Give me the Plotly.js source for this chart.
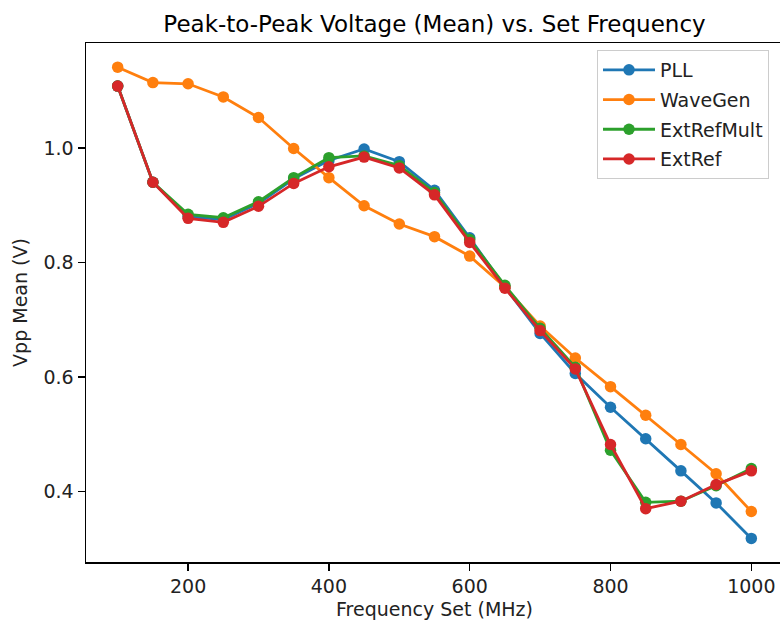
<!DOCTYPE html>
<html>
<head>
<meta charset="utf-8">
<script src="https://cdn.plot.ly/plotly-3.0.1.min.js"></script>
<style>
html, body { margin: 0; padding: 0; overflow: hidden; background: #fff; }
#chart { width: 783px; height: 626px; }
</style>
</head>
<body>
<div id="chart"></div>
<script>
const freq = [100, 150, 200, 250, 300, 350, 400, 450, 500, 550, 600, 650, 700, 750, 800, 850, 900, 950, 1000];
const pll = [1.108, 0.940, 0.880, 0.875, 0.903, 0.946, 0.978, 0.998, 0.976, 0.926, 0.843, 0.757, 0.676, 0.606, 0.547, 0.492, 0.436, 0.380, 0.318];
const waveGen = [1.141, 1.114, 1.112, 1.089, 1.053, 0.999, 0.948, 0.899, 0.867, 0.845, 0.811, 0.757, 0.689, 0.633, 0.583, 0.533, 0.482, 0.431, 0.365];
const extRefMult = [1.108, 0.940, 0.884, 0.878, 0.906, 0.948, 0.983, 0.986, 0.969, 0.922, 0.840, 0.760, 0.685, 0.617, 0.472, 0.381, 0.383, 0.410, 0.440];
const extRef = [1.108, 0.940, 0.877, 0.870, 0.898, 0.938, 0.967, 0.984, 0.965, 0.918, 0.835, 0.755, 0.681, 0.614, 0.482, 0.370, 0.383, 0.412, 0.436];
const seriesNames = ["PLL", "WaveGen", "ExtRefMult", "ExtRef"];
const seriesValues = [pll, waveGen, extRefMult, extRef];
const colors = ["#1f77b4", "#ff7f0e", "#2ca02c", "#d62728"];

const font = "DejaVu Sans, sans-serif";
const traces = seriesNames.map((name, i) => ({
  x: freq,
  y: seriesValues[i],
  name: name,
  legendgroup: name,
  type: "scatter",
  mode: "lines+markers",
  line: { color: colors[i], width: 2.8 },
  marker: { color: colors[i], size: 11.5 }
}));

const layout = {
  width: 783,
  height: 626,
  margin: { l: 86, r: 0, t: 43, b: 64 },
  paper_bgcolor: "#fff",
  plot_bgcolor: "#fff",
  font: { family: font, size: 19, color: "#000" },
  title: {
    text: "Peak-to-Peak Voltage (Mean) vs. Set Frequency",
    font: { family: font, size: 23, color: "#000" },
    x: 0.5, xref: "paper", xanchor: "center",
    y: 1 - 24 / 626, yref: "container", yanchor: "middle"
  },
  xaxis: {
    range: [55, 1045],
    tickvals: [200, 400, 600, 800, 1000],
    ticktext: ["200", "400", "600", "800", "1000"],
    ticks: "outside", ticklen: 7, tickwidth: 1.5, tickcolor: "#000",
    showline: true, linecolor: "#000", linewidth: 1.5, mirror: true,
    showgrid: false, zeroline: false,
    tickfont: { family: font, size: 19, color: "#222" },
    title: { text: "Frequency Set (MHz)", font: { family: font, size: 19, color: "#222" }, standoff: 6 }
  },
  yaxis: {
    range: [0.2768, 1.1832],
    tickvals: [0.4, 0.6, 0.8, 1.0],
    ticktext: ["0.4", "0.6", "0.8", "1.0"],
    ticks: "outside", ticklen: 7, tickwidth: 1.5, tickcolor: "#000",
    showline: true, linecolor: "#000", linewidth: 1.5, mirror: true,
    showgrid: false, zeroline: false,
    tickfont: { family: font, size: 19, color: "#222" },
    title: { text: "Vpp Mean (V)", font: { family: font, size: 19, color: "#222" }, standoff: 11 }
  },
  showlegend: true,
  legend: {
    x: (597 - 86) / 697, xanchor: "left",
    y: (562 - 50) / 519, yanchor: "top",
    bgcolor: "rgba(255,255,255,0.8)",
    bordercolor: "#cccccc", borderwidth: 1,
    font: { family: font, size: 19, color: "#222" },
    traceorder: "grouped",
    tracegroupgap: 2,
    itemwidth: 52
  }
};

Plotly.newPlot("chart", traces, layout, { displayModeBar: false, staticPlot: true });
</script>
</body>
</html>
